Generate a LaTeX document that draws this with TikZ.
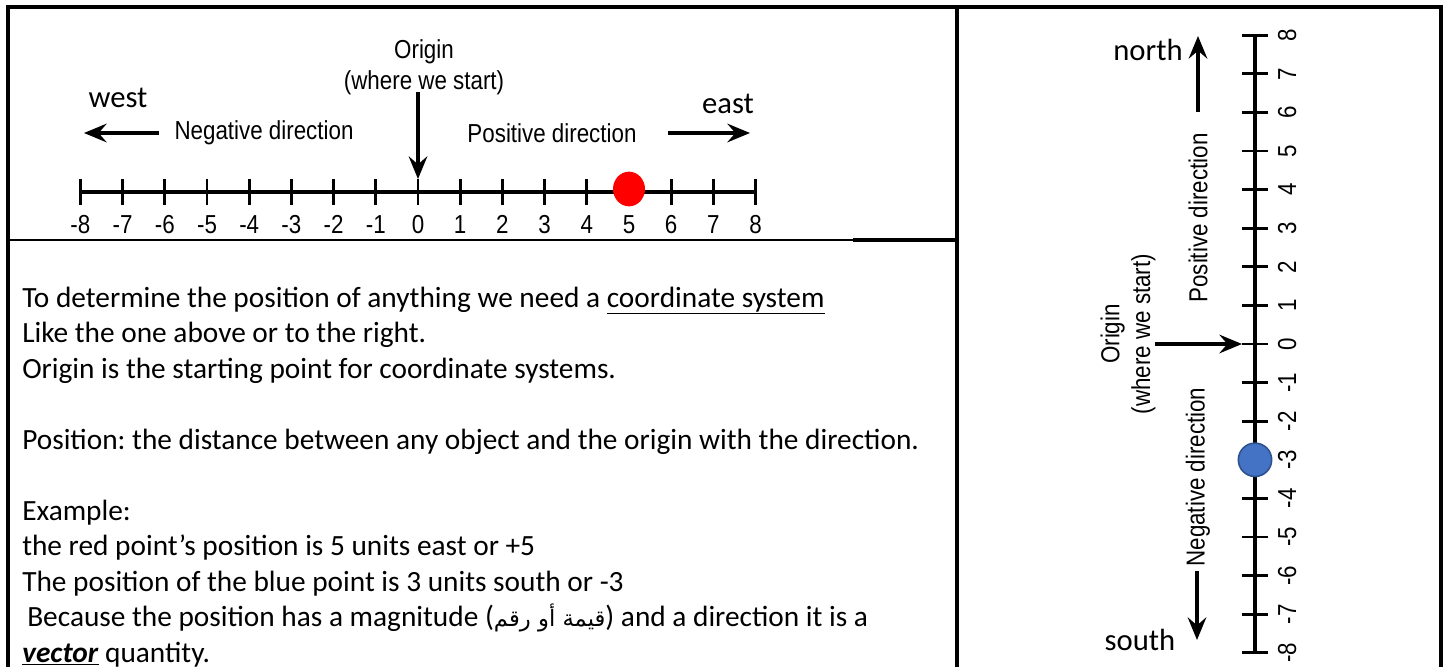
\documentclass[tikz,border=0pt]{standalone}
\usepackage{fontspec}
\setmainfont{Carlito}
\newfontfamily\diag[FakeStretch=0.86]{Liberation Sans}
\newfontfamily\arabicfont[Script=Arabic]{DejaVu Sans}
\TeXXeTstate=1
\frenchspacing
\usetikzlibrary{arrows.meta,shapes.geometric}
\begin{document}
\begin{tikzpicture}[x=0.75pt,y=-0.75pt,
  frame/.style={line width=2.3pt},
  thinrule/.style={line width=1.2pt},
  axisline/.style={line width=2.3pt},
  tickmark/.style={line width=2.1pt},
  lbl/.style={font=\diag\fontsize{19.5}{23}\selectfont, inner sep=0pt, align=center},
  numlbl/.style={font=\diag\fontsize{19.5}{23}\selectfont, inner sep=0pt, text height=10.5pt, text depth=0pt},
  dirarrow/.style={line width=2.3pt,-{Stealth[length=17pt,width=14pt,inset=6pt]}},
  compass/.style={font=\fontsize{23}{27}\selectfont, inner sep=0pt},
  body/.style={font=\fontsize{22}{26}\selectfont, anchor=base west, inner sep=0pt},
  reddot/.style={ellipse, fill=red, minimum width=24pt, minimum height=26pt, inner sep=0pt},
  bluedot/.style={circle, fill={rgb,255:red,68;green,114;blue,196}, draw={rgb,255:red,47;green,82;blue,143}, line width=1.2pt, minimum size=25pt, inner sep=0pt},
]
\useasboundingbox (0,0) rectangle (1443,667);
% frame
\coordinate (TL) at (8,7); \coordinate (TR) at (1441,7);
\coordinate (BL) at (8,667); \coordinate (BR) at (1441,667);
\coordinate (DT) at (957,7); \coordinate (DB) at (957,667);
\coordinate (SL) at (8,240); \coordinate (SM) at (853,240); \coordinate (SR) at (957,240);
\draw[frame] (BL) -- (TL) -- (TR) -- (BR);
\draw[frame] (DT) -- (DB);
\draw[thinrule] (SL) -- (SM);
\draw[frame] (SM) -- (SR);

% horizontal number line
\foreach \i [count=\k] in {-8,...,8} {
  \coordinate (h\k) at ({418+42.2*\i},192);
  \coordinate (ht\k) at ({418+42.2*\i},179);
  \coordinate (hb\k) at ({418+42.2*\i},205);
  \draw[tickmark] (ht\k) -- (hb\k);
  \node[numlbl] (hl\k) at ({418+42.2*\i},226) {\i};
}
\draw[axisline] (h1) -- (h17);
\node[reddot] (red) at ({418+42.2*5},189) {};
\node[lbl] (orig) at (424,67) {Origin\\(where we start)};
\coordinate (oa) at (418,92);
\draw[dirarrow] (oa) -- (ht9);
\node[compass] (west) at (118,98) {west};
\node[compass] (east) at (728,104) {east};
\node[lbl] (neg) at (264,133) {Negative direction};
\node[lbl] (pos) at (552,133) {Positive direction};
\coordinate (na) at (159,133); \coordinate (nb) at (84,133);
\coordinate (pa) at (668,133); \coordinate (pb) at (750,133);
\draw[dirarrow] (na) -- (nb);
\draw[dirarrow] (pa) -- (pb);

% vertical number line
\foreach \i [count=\k] in {-8,...,8} {
  \coordinate (v\k) at (1255,{344-38.6*\i});
  \coordinate (vl\k) at (1242,{344-38.6*\i});
  \coordinate (vr\k) at (1268,{344-38.6*\i});
  \draw[tickmark] (vl\k) -- (vr\k);
  \node[numlbl, rotate=90] (vn\k) at (1289,{344-38.6*\i}) {\i};
}
\draw[axisline] (v1) -- (v17);
\node[bluedot] (blue) at (1255,{344+38.6*3}) {};
\node[compass] (north) at (1148,50) {north};
\node[compass] (south) at (1140,640) {south};
\coordinate (up1) at (1198,112); \coordinate (up2) at (1198,36);
\coordinate (dn1) at (1197,571); \coordinate (dn2) at (1197,640);
\draw[dirarrow] (up1) -- (up2);
\draw[dirarrow] (dn1) -- (dn2);
\node[lbl, rotate=90] (vpos) at (1198,218) {Positive direction};
\node[lbl, rotate=90] (vneg) at (1198,477) {Negative direction};
\node[lbl, rotate=90] (vorig) at (1128,334) {Origin\\(where we start)};
\coordinate (voa) at (1155,344);
\draw[dirarrow] (voa) -- (vl9);

% body text
\node[body] (t1) at (22,307) {To determine the position of anything we need a \underline{coordinate system}};
\node[body] (t2) at (22,342.5) {Like the one above or to the right.};
\node[body] (t3) at (22,378) {Origin is the starting point for coordinate systems.};
\node[body] (t5) at (22,449) {Position: the distance between any object and the origin with the direction.};
\node[body] (t7) at (22,520) {Example:};
\node[body] (t8) at (22,555.5) {the red point’s position is 5 units east or +5};
\node[body] (t9) at (22,591) {The position of the blue point is 3 units south or -3};
\node[body] (t10) at (27,626.5) {Because the position has a magnitude ({\arabicfont\fontsize{17}{20}\selectfont\beginR قيمة أو رقم\endR}) and a direction it is a};
\node[body] (t11) at (22,662) {\underline{\textbf{\textit{vector}}} quantity.};
\end{tikzpicture}
\end{document}
